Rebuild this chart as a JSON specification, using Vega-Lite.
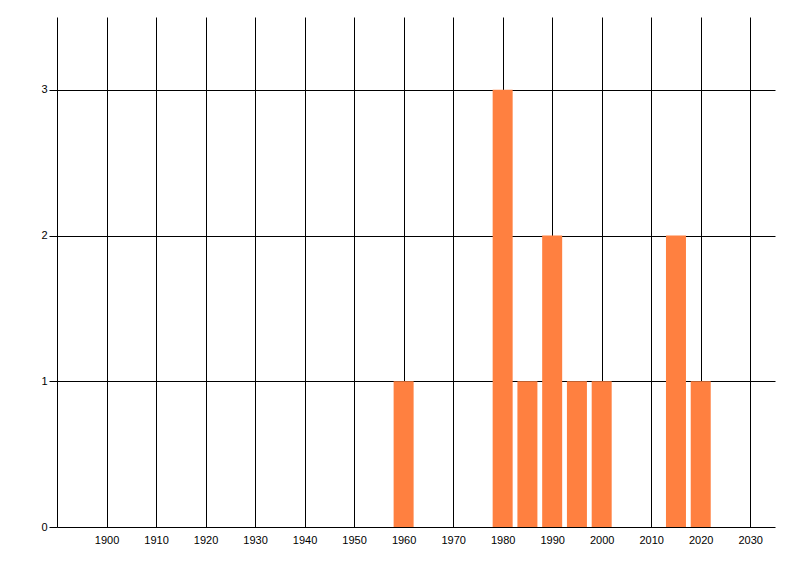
{
  "$schema": "https://vega.github.io/schema/vega-lite/v6.json",
  "width": 718,
  "height": 510,
  "autosize": {"type": "none"},
  "padding": {"left": 57, "top": 17, "right": 25, "bottom": 49},
  "background": "white",
  "config": {
    "view": {"stroke": null},
    "axis": {
      "labelFont": "Liberation Sans",
      "labelFontSize": 11,
      "labelColor": "#000000",
      "gridColor": "#000000",
      "gridOpacity": 1,
      "gridWidth": 1,
      "domainColor": "#000000",
      "tickColor": "#000000",
      "title": null
    }
  },
  "data": {
    "values": [
      {"year": 1960, "count": 1},
      {"year": 1980, "count": 3},
      {"year": 1985, "count": 1},
      {"year": 1990, "count": 2},
      {"year": 1995, "count": 1},
      {"year": 2000, "count": 1},
      {"year": 2015, "count": 2},
      {"year": 2020, "count": 1}
    ]
  },
  "mark": {"type": "bar", "color": "#FF8040", "width": 20},
  "encoding": {
    "x": {
      "field": "year",
      "type": "quantitative",
      "scale": {"domain": [1890, 2035], "nice": false, "zero": false, "padding": 0},
      "axis": {
        "values": [1900, 1910, 1920, 1930, 1940, 1950, 1960, 1970, 1980, 1990, 2000, 2010, 2020, 2030],
        "format": "d",
        "grid": true,
        "ticks": false,
        "tickSize": 0,
        "domain": false,
        "labelPadding": 7,
        "labelFlush": false,
        "labelOverlap": false
      }
    },
    "y": {
      "field": "count",
      "type": "quantitative",
      "scale": {"domain": [0, 3.5], "nice": false},
      "axis": {
        "values": [0, 1, 2, 3],
        "grid": true,
        "ticks": true,
        "tickSize": 8,
        "domain": true,
        "labelPadding": 2,
        "labelFlush": false
      }
    }
  }
}
